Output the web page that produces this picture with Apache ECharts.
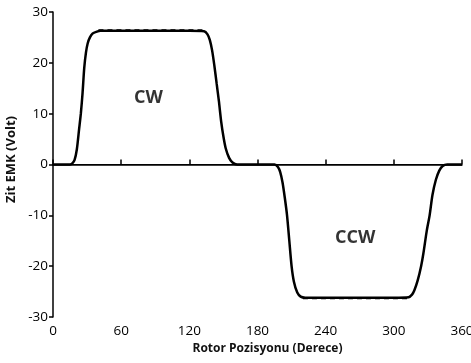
<!DOCTYPE html>
<html><head><meta charset="utf-8">
<script src="https://cdn.jsdelivr.net/npm/echarts@6/dist/echarts.min.js"></script>
<style>html,body{margin:0;padding:0;background:#fff}#c{width:471px;height:363px}</style>
</head><body><div id="c"></div>
<script>
const xTicks = [0, 60, 120, 180, 240, 300, 360];
const yTicks = [-30, -20, -10, 0, 10, 20, 30];
const emfX = [0, 10, 15, 17, 19, 21, 23, 24.5, 26, 27.5, 29, 30.5, 32.5, 35, 38, 42, 60, 90, 120, 133, 136, 138, 140, 142, 144, 146, 148, 150, 152, 155, 158, 162, 180, 195, 198, 200, 202, 204, 206, 208, 210, 212, 215, 218, 222, 240, 270, 300, 313, 316, 318, 321, 324, 326, 329, 331.5, 334, 337, 340, 343, 347, 360];
const emfY = [0, 0, 0, 0.2, 0.9, 3, 7, 10, 14, 19, 22, 23.8, 25, 25.8, 26.1, 26.3, 26.3, 26.3, 26.3, 26.2, 25.6, 24.5, 22.5, 19.5, 16, 12.5, 8.5, 5.5, 3.2, 1.3, 0.4, 0, 0, 0, -0.5, -1.5, -3.5, -6.5, -10, -15, -20, -23, -25.2, -26, -26.2, -26.2, -26.2, -26.2, -26.1, -25.6, -24.8, -22.8, -20, -17.5, -13, -10, -6, -3, -1.2, -0.3, 0, 0];
const dashX = [40, 60, 80, 100, 120, 134];
const dashY = [26.4, 26.4, 26.4, 26.4, 26.4, 26.4];
const dash2X = [220, 240, 260, 280, 300, 314];
const dash2Y = [-26.3, -26.3, -26.3, -26.3, -26.3, -26.3];
const notes = [{text: 'CW', x: 84, y: 13.2}, {text: 'CCW', x: 266, y: -14.5}];
const xName = 'Rotor Pozisyonu (Derece)';
const yName = 'Zit EMK (Volt)';

const chart = echarts.init(document.getElementById('c'));
const font = '"Open Sans", sans-serif';
chart.setOption({
  animation: false,
  grid: {left: 53, right: 9, top: 12, bottom: 46, containLabel: false, outerBoundsMode: 'none'},
  xAxis: {
    type: 'value', min: xTicks[0], max: xTicks[xTicks.length - 1], interval: 60,
    name: xName, nameLocation: 'middle', nameGap: 25,
    nameTextStyle: {fontFamily: font, fontWeight: 'bold', fontSize: 12, color: '#111', padding: [0, 0, 0, 20]},
    axisLine: {lineStyle: {color: '#000', width: 1.5}},
    axisTick: {inside: true, length: 5, lineStyle: {color: '#000', width: 1.5}},
    axisLabel: {fontFamily: font, fontSize: 13.5, color: '#000', margin: 7},
    splitLine: {show: false}
  },
  yAxis: {
    type: 'value', min: yTicks[0], max: yTicks[yTicks.length - 1], interval: 10,
    name: yName, nameLocation: 'middle', nameGap: 34, nameRotate: 90,
    nameTextStyle: {fontFamily: font, fontWeight: 'bold', fontSize: 13, color: '#111', padding: [0, 0, 0, 10]},
    axisLine: {lineStyle: {color: '#000', width: 1.5}},
    axisTick: {length: 4, lineStyle: {color: '#000', width: 1.5}},
    axisLabel: {fontFamily: font, fontSize: 13.5, color: '#000', margin: 5},
    splitLine: {show: false}
  },
  series: [
    {
      type: 'line', data: emfX.map((x, i) => [x, emfY[i]]), smooth: 0.25, symbol: 'none',
      lineStyle: {color: '#000', width: 2.5},
      markLine: {
        silent: true, symbol: 'none', label: {show: false},
        lineStyle: {color: '#000', width: 1, type: 'solid'},
        data: [{yAxis: 0}]
      },
      z: 3
    },
    {
      type: 'line', data: dashX.map((x, i) => [x, dashY[i]]), symbol: 'none',
      lineStyle: {color: '#000', width: 2, type: [5, 4]}, z: 2
    },
    {
      type: 'line', data: dash2X.map((x, i) => [x, dash2Y[i]]), symbol: 'none',
      lineStyle: {color: '#000', width: 2, type: [5, 4]}, z: 2
    },
    {
      type: 'scatter', symbolSize: 0, data: notes.map(n => [n.x, n.y, n.text]),
      label: {show: true, position: 'inside', formatter: p => p.data[2],
        fontFamily: font, fontWeight: 'bold', fontSize: 18, color: '#000'}
    }
  ]
});
</script></body></html>
